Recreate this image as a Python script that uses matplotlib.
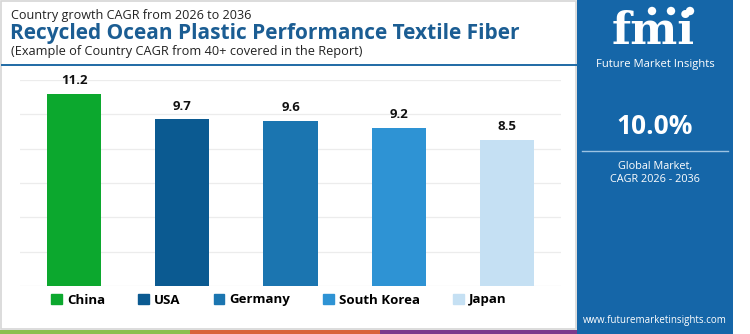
import matplotlib.pyplot as plt
from matplotlib.patches import Rectangle
from matplotlib.lines import Line2D

# === Data
countries = ["China", "USA", "Germany", "South Korea", "Japan"]
cagr = [11.2, 9.7, 9.6, 9.2, 8.5]
colors = ["#0ca82e", "#0b5a91", "#1b75b0", "#2e93d4", "#c5e0f3"]
yticks = [0, 2, 4, 6, 8, 10, 12]

title_top = "Country growth CAGR from 2026 to 2036"
title_main = "Recycled Ocean Plastic Performance Textile Fiber"
title_sub = "(Example of Country CAGR from 40+ covered in the Report)"
global_cagr = "10.0%"

plt.rcParams["font.family"] = ["Open Sans", "DejaVu Sans"]

W, H = 750, 334
fig = plt.figure(figsize=(7.5, 3.34), dpi=100)

# === Fondo en pixeles
bg = fig.add_axes([0, 0, 1, 1], zorder=0)
bg.set_xlim(0, W)
bg.set_ylim(H, 0)
bg.axis("off")

bg.add_patch(Rectangle((1, 1), 575, 328, fill=False, ec="#d6d6d6", lw=1.2))
bg.add_line(Line2D([2, 577], [65, 65], color="#1f6aa5", lw=1.4))

# franja inferior
for x0, x1, c in [(0, 190, "#8cbf4f"), (190, 380, "#d9633b"), (380, 577, "#7b3a8c")]:
    bg.add_patch(Rectangle((x0, 330), x1 - x0, 4, color=c, lw=0))

# panel derecho
panel = "#1566a8"
bg.add_patch(Rectangle((577, 0), 156, H, color=panel, lw=0))
bg.text(653, 31, "fmi", color="white", fontsize=32, fontweight="bold",
        family="DejaVu Serif", ha="center", va="center")
for yy in range(16, 50, 4):
    bg.add_line(Line2D([604, 702], [yy, yy], color=panel, lw=0.8))
for cx in [652, 671, 690]:
    bg.add_patch(plt.Circle((cx, 11), 4.2, color="white", lw=0))
bg.text(655, 65, "Future Market Insights", color="white", fontsize=8.1,
        ha="center", va="center")
bg.text(655, 127, global_cagr, color="white", fontsize=19, fontweight="bold",
        ha="center", va="center")
bg.add_line(Line2D([582, 728], [151, 151], color="#9cc3e3", lw=1))
bg.text(655, 166, "Global Market,", color="white", fontsize=7.8, ha="center", va="center")
bg.text(655, 180, "CAGR 2026 - 2036", color="white", fontsize=7.8, ha="center", va="center")
bg.text(655, 320, "www.futuremarketinsights.com", color="white", fontsize=7,
        ha="center", va="center")

# titulos
bg.text(11, 15, title_top, color="#222222", fontsize=9.1, ha="left", va="center")
bg.text(10, 33, title_main, color="#1b5d93", fontsize=15, fontweight="bold",
        ha="left", va="center")
bg.text(11, 51, title_sub, color="#222222", fontsize=9.2, ha="left", va="center")

# === Barras
ax = fig.add_axes([20 / W, 1 - 286 / H, 541 / W, 206 / H], zorder=1)
ax.patch.set_alpha(0)
x = list(range(len(countries)))
bars = ax.bar(x, cagr, width=0.5, color=colors, zorder=2)
ax.set_xlim(-0.5, len(countries) - 0.5)
ax.set_ylim(0, 12)
ax.set_yticks(yticks)
ax.grid(axis="y", color="#ececec", lw=0.9, zorder=0)
ax.tick_params(left=False, bottom=False, labelleft=False, labelbottom=False)
for s in ax.spines.values():
    s.set_visible(False)

for b, v in zip(bars, cagr):
    ax.annotate(f"{v}", (b.get_x() + b.get_width() / 2, v), xytext=(0, 5),
                textcoords="offset points", ha="center", va="bottom",
                fontsize=9.5, fontweight="bold", color="#111111", clip_on=False)

handles = [Rectangle((0, 0), 1, 1, color=c) for c in colors]
leg = fig.legend(handles, countries, loc="center", bbox_to_anchor=(279 / W, 1 - 300 / H),
                 ncol=5, frameon=False, handlelength=0.8, handleheight=0.8,
                 handletextpad=0.4, columnspacing=2.5,
                 prop={"weight": "bold", "size": 9.5})

fig.savefig("out.png", dpi=100)
